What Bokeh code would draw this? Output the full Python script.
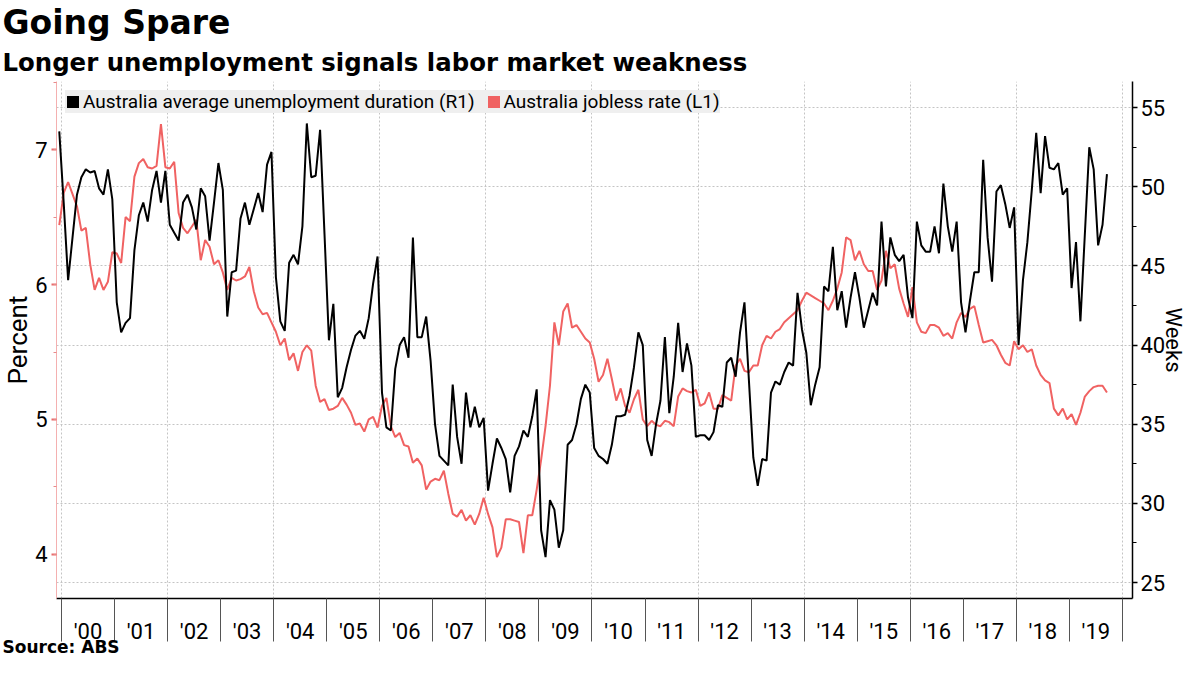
from bokeh.plotting import figure
from bokeh.models import (Range1d, LinearAxis, FixedTicker, SingleIntervalTicker,
                          Title, Legend, LegendItem, ColumnDataSource)
from bokeh.embed import file_html
from bokeh.resources import INLINE

# ---------------- data (monthly, Dec 1999 .. Sep 2019) ----------------
start_year = 1999
start_month = 12

jobless_rate = [
    6.44, 6.68, 6.76, 6.67, 6.58, 6.40, 6.42, 6.15, 5.96, 6.05,
    5.96, 6.02, 6.24, 6.23, 6.16, 6.50, 6.47, 6.80, 6.90, 6.93,
    6.87, 6.86, 6.88, 7.19, 6.87, 6.86, 6.91, 6.53, 6.42, 6.38,
    6.43, 6.48, 6.18, 6.33, 6.28, 6.15, 6.18, 6.09, 5.96, 6.05,
    6.03, 6.04, 6.06, 6.13, 5.95, 5.83, 5.78, 5.79, 5.72, 5.65,
    5.55, 5.60, 5.44, 5.49, 5.36, 5.50, 5.55, 5.51, 5.25, 5.13,
    5.15, 5.07, 5.08, 5.10, 5.16, 5.11, 5.05, 4.96, 4.97, 4.91,
    5.00, 5.02, 4.94, 5.10, 5.16, 4.95, 4.87, 4.90, 4.81, 4.80,
    4.68, 4.71, 4.66, 4.48, 4.54, 4.56, 4.55, 4.62, 4.45, 4.30,
    4.28, 4.33, 4.25, 4.29, 4.22, 4.30, 4.42, 4.30, 4.20, 3.98,
    4.05, 4.26, 4.26, 4.25, 4.24, 4.01, 4.29, 4.29, 4.48, 4.70,
    4.95, 5.25, 5.72, 5.55, 5.80, 5.86, 5.68, 5.70, 5.65, 5.60,
    5.57, 5.45, 5.28, 5.33, 5.45, 5.30, 5.14, 5.23, 5.10, 5.05,
    5.15, 5.22, 5.00, 4.95, 4.99, 4.96, 4.95, 4.99, 4.98, 4.95,
    5.17, 5.23, 5.21, 5.20, 5.22, 5.10, 5.12, 5.20, 5.08, 5.08,
    5.18, 5.16, 5.14, 5.40, 5.45, 5.36, 5.35, 5.40, 5.40, 5.55,
    5.62, 5.60, 5.65, 5.67, 5.72, 5.75, 5.78, 5.81, 5.88, 5.94,
    5.92, 5.90, 5.88, 5.86, 5.81, 5.88, 5.97, 6.09, 6.35, 6.33,
    6.18, 6.25, 6.15, 6.10, 6.10, 5.96, 6.03, 6.25, 6.12, 6.15,
    5.97, 5.86, 5.76, 5.98, 5.72, 5.65, 5.64, 5.70, 5.70, 5.68,
    5.62, 5.64, 5.60, 5.72, 5.79, 5.76, 5.82, 5.84, 5.70, 5.57,
    5.58, 5.59, 5.55, 5.48, 5.42, 5.40, 5.58, 5.52, 5.55, 5.50,
    5.52, 5.40, 5.33, 5.29, 5.27, 5.08, 5.03, 5.08, 5.00, 5.04,
    4.96, 5.05, 5.17, 5.21, 5.24, 5.25, 5.25, 5.20,
]

duration_weeks = [
    53.5, 49.0, 44.1, 46.8, 49.5, 50.6, 51.1, 50.9, 51.0, 49.9,
    49.5, 51.1, 49.2, 42.7, 40.8, 41.4, 41.7, 46.0, 48.2, 49.0,
    47.8, 49.8, 51.0, 49.0, 51.0, 47.6, 47.1, 46.6, 49.0, 49.5,
    48.7, 47.3, 49.9, 49.4, 46.6, 49.0, 51.5, 49.8, 41.8, 44.6,
    44.7, 48.0, 49.0, 47.6, 48.6, 49.6, 48.4, 51.4, 52.2, 44.3,
    41.5, 40.9, 45.2, 45.7, 45.1, 47.5, 54.0, 50.6, 50.7, 53.6,
    47.0, 40.3, 42.6, 36.7, 37.3, 38.6, 39.7, 40.6, 40.9, 40.4,
    41.7, 43.9, 45.6, 37.0, 34.8, 34.6, 38.5, 40.0, 40.5, 39.2,
    46.8, 40.5, 40.5, 41.8, 39.0, 35.0, 33.0, 32.7, 32.4, 37.5,
    34.2, 32.5, 37.0, 34.8, 36.1, 34.8, 35.4, 30.8, 32.5, 34.1,
    33.5, 32.8, 30.7, 33.0, 33.6, 34.6, 34.2, 35.5, 37.2, 28.3,
    26.6, 30.2, 29.6, 27.2, 28.3, 33.7, 34.0, 35.0, 36.6, 37.5,
    37.0, 33.5, 33.0, 32.8, 32.5, 33.7, 35.5, 35.5, 35.6, 36.8,
    38.6, 40.8, 40.0, 34.0, 33.0, 35.0, 36.5, 40.5, 35.7, 38.0,
    41.4, 38.3, 40.1, 38.7, 34.2, 34.3, 34.3, 34.0, 34.5, 36.2,
    36.1, 38.9, 39.2, 38.0, 40.8, 42.7, 37.8, 32.9, 31.1, 32.8,
    32.7, 37.0, 37.7, 37.5, 38.3, 38.9, 38.7, 43.3, 41.0, 39.5,
    36.2, 37.5, 38.6, 43.7, 43.4, 46.2, 42.2, 43.4, 41.1, 43.0,
    44.6, 43.0, 41.1, 42.2, 43.3, 42.5, 47.8, 43.7, 46.8, 45.7,
    45.3, 45.7, 43.0, 41.7, 47.8, 46.3, 45.9, 45.9, 47.5, 45.8,
    50.2, 47.5, 45.9, 47.8, 42.7, 40.8, 42.8, 44.6, 44.6, 51.7,
    46.8, 44.0, 49.7, 50.1, 48.9, 47.4, 48.7, 40.0, 44.1, 46.5,
    49.8, 53.4, 49.6, 53.2, 51.2, 51.1, 51.5, 49.5, 49.9, 43.6,
    46.5, 41.5, 47.0, 52.5, 51.1, 46.3, 47.6, 50.8,
]

label_years = list(range(2000, 2020))
year_labels = ["'%02d" % (y % 100) for y in label_years]

series_names = ["Australia average unemployment duration (R1)",
                "Australia jobless rate (L1)"]

# ---------------- x positions (mid-month, in fractional years) ----------------
xs = []
for i in range(len(jobless_rate)):
    m = (start_month - 1) + i
    xs.append(start_year + m // 12 + ((m % 12) + 0.5) / 12.0)

src = ColumnDataSource(dict(x=xs, rate=jobless_rate, weeks=duration_weeks))

RED = "#f06262"
TXT = "Roboto"
LEFT = 56

p = figure(width=1184, height=659, title=None,
           x_range=Range1d(1999.906, 2020.19), y_range=Range1d(3.673, 7.505),
           output_backend="svg", toolbar_location=None,
           min_border_left=LEFT, min_border_right=52, min_border_top=0, min_border_bottom=61,
           background_fill_color="white", border_fill_color="white",
           outline_line_color=None)

p.extra_y_ranges = {"weeks": Range1d(23.99, 56.65)}

# ---- grids ----
p.xgrid.ticker = FixedTicker(ticks=list(range(2000, 2021, 2)))
p.ygrid.ticker = SingleIntervalTicker(interval=5)
p.ygrid.y_range_name = "weeks"
for g in (p.xgrid, p.ygrid):
    g.grid_line_color = "#c4c4c4"
    g.grid_line_dash = "2 2"
    g.grid_line_width = 1

# ---- bottom axis ----
xa = p.xaxis[0]
xa.ticker = FixedTicker(ticks=[y + 0.5 for y in label_years],
                        minor_ticks=list(range(2000, 2021)))
xa.major_label_overrides = {y + 0.5: lab for y, lab in zip(label_years, year_labels)}
xa.major_tick_out = 0
xa.major_tick_in = 0
xa.minor_tick_out = 43
xa.minor_tick_in = 0
xa.minor_tick_line_color = "#555555"
xa.minor_tick_line_width = 1
xa.axis_line_color = "black"
xa.axis_line_width = 1.5
xa.major_label_text_font = TXT
xa.major_label_text_font_size = "22px"
xa.major_label_text_color = "black"
xa.major_label_standoff = -23

# ---- left axis (percent) ----
ya = p.yaxis[0]
ya.ticker = SingleIntervalTicker(interval=1, num_minor_ticks=2)
ya.axis_line_color = "#f4b0b0"
ya.axis_line_width = 1
ya.major_tick_line_color = "#e86a6a"
ya.major_tick_line_width = 2
ya.major_tick_out = 5
ya.major_tick_in = 0
ya.minor_tick_line_color = "#e88a8a"
ya.minor_tick_out = 3
ya.minor_tick_in = 0
ya.major_label_text_font = TXT
ya.major_label_text_font_size = "22px"
ya.major_label_text_color = "black"
ya.major_label_standoff = 4

# ---- right axis (weeks) ----
ra = LinearAxis(y_range_name="weeks",
                ticker=SingleIntervalTicker(interval=5, num_minor_ticks=2))
ra.axis_line_color = "black"
ra.axis_line_width = 1.5
ra.major_tick_line_color = "black"
ra.major_tick_line_width = 1.5
ra.major_tick_out = 5
ra.major_tick_in = 0
ra.minor_tick_line_color = "black"
ra.minor_tick_out = 4
ra.minor_tick_in = 0
ra.major_label_text_font = TXT
ra.major_label_text_font_size = "22px"
ra.major_label_text_color = "black"
ra.major_label_standoff = 3
p.add_layout(ra, "right")

# ---- series ----
p.line("x", "rate", source=src, line_color=RED, line_width=2)
p.line("x", "weeks", source=src, y_range_name="weeks", line_color="black", line_width=2)

# legend swatches: quads placed outside the visible range
leg_black = p.quad(left=[1990.0], right=[1990.1], bottom=[0.0], top=[0.1],
                   fill_color="black", line_color=None)
leg_red = p.quad(left=[1990.0], right=[1990.1], bottom=[0.0], top=[0.1],
                 fill_color=RED, line_color=None)
legend = Legend(items=[LegendItem(label=series_names[0], renderers=[leg_black]),
                       LegendItem(label=series_names[1], renderers=[leg_red])],
                location="top_left", orientation="horizontal",
                background_fill_color="#efefef", background_fill_alpha=1,
                border_line_color=None,
                label_text_font=TXT, label_text_font_size="19px",
                label_text_color="black", label_height=21,
                glyph_width=15, glyph_height=15, label_standoff=3,
                spacing=11, padding=10, margin=9)
p.add_layout(legend)

# ---- axis titles (side panels) ----
p.add_layout(Title(text="Percent", text_font=TXT, text_font_size="26px",
                   text_font_style="normal", text_color="black",
                   align="center", standoff=0), "left")
p.add_layout(Title(text="Weeks", text_font=TXT, text_font_size="22px",
                   text_font_style="normal", text_color="black",
                   align="center", standoff=-16), "right")

# ---- titles ----
p.add_layout(Title(text="Longer unemployment signals labor market weakness",
                   text_font="DejaVu Sans", text_font_style="bold", text_color="black",
                   text_font_size="24.4px", align="left", offset=-(LEFT - 2), standoff=9),
             "above")
p.add_layout(Title(text="Going Spare", text_font="DejaVu Sans", text_font_style="bold",
                   text_color="black",
                   text_font_size="33px", align="left", offset=-(LEFT - 2), standoff=0),
             "above")
p.add_layout(Title(text="Source:  ABS", text_font="DejaVu Sans", text_font_style="bold",
                   text_color="black", vertical_align="top",
                   text_font_size="17px", align="left", offset=-(LEFT - 2), standoff=-19),
             "below")

open("out.html", "w").write(file_html(p, INLINE))
